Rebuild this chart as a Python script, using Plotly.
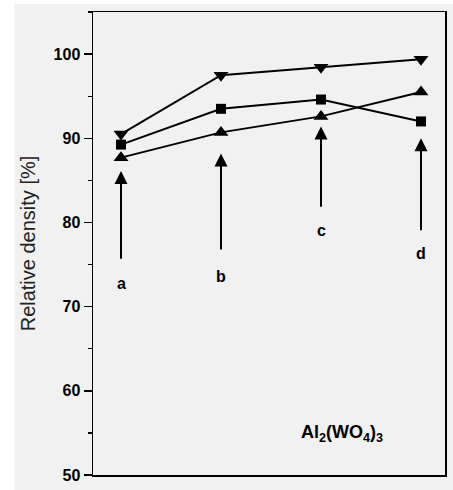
import plotly.graph_objects as go

samples = ["a", "b", "c", "d"]
x_pos = [1, 2, 3, 4]
down_tri = [90.5, 97.5, 98.45, 99.4]
squares = [89.25, 93.5, 94.6, 92.0]
up_tri = [87.7, 90.7, 92.6, 95.5]
arrow_tip = [86.1, 88.2, 91.4, 90.0]
arrow_tail = [75.5, 76.6, 81.7, 78.9]
label_y = [72.7, 73.6, 79.1, 76.3]
y_ticks = [50, 60, 70, 80, 90, 100]

fig = go.Figure()
for vals, sym in [(down_tri, "triangle-down"), (squares, "square"), (up_tri, "triangle-up")]:
    fig.add_trace(go.Scatter(
        x=x_pos, y=vals, mode="lines+markers",
        line=dict(color="black", width=2),
        marker=dict(symbol=sym, size=13 if sym != "square" else 10, color="black"),
        showlegend=False, cliponaxis=False, hoverinfo="skip",
    ))

for xi, tip, tail, ly, s in zip(x_pos, arrow_tip, arrow_tail, label_y, samples):
    fig.add_annotation(x=xi, y=tip, ax=xi, ay=tail, axref="x", ayref="y",
                       xref="x", yref="y", showarrow=True, arrowhead=2,
                       arrowsize=1.3, arrowwidth=2, arrowcolor="black", text="")
    fig.add_annotation(x=xi, y=ly, xref="x", yref="y", text="<b>%s</b>" % s,
                       showarrow=False, font=dict(family="Arial", size=16, color="black"))

fig.add_annotation(x=0.83, y=0.06, xref="paper", yref="paper",
                   text="<b>Al<sub>2</sub>(WO<sub>4</sub>)<sub>3</sub></b>",
                   showarrow=False, font=dict(family="Arial", size=18, color="black"))

# white strip around the scanned area
fig.add_shape(type="rect", xref="paper", yref="paper", x0=-0.27, x1=-0.223, y0=-0.1, y1=1.1,
              fillcolor="white", line_width=0, layer="above")
fig.add_shape(type="rect", xref="paper", yref="paper", x0=-0.27, x1=1.1, y0=1.0172, y1=1.1,
              fillcolor="white", line_width=0, layer="above")

fig.update_xaxes(range=[0.72, 4.24], showticklabels=False, ticks="", showgrid=False,
                 zeroline=False, showline=True, linecolor="black", linewidth=1.5, mirror=True)
fig.update_yaxes(range=[50, 105], tickvals=y_ticks, ticks="outside", ticklen=8, tickwidth=1.5,
                 tickcolor="black", minor=dict(tickvals=[55, 65, 75, 85, 95, 105], ticks="outside",
                                               ticklen=4, tickwidth=1.2, tickcolor="black"),
                 showgrid=False, zeroline=False, showline=True, linecolor="black", linewidth=1.5,
                 mirror=True, tickfont=dict(family="Arial", size=16, color="black", weight="bold"),
                 title=dict(text="Relative density [%]", font=dict(family="Arial", size=20, color="#222"),
                            standoff=12))

fig.update_layout(width=453, height=490, margin=dict(l=93, r=6, t=12, b=12),
                  paper_bgcolor="#f1f1f1", plot_bgcolor="#f1f1f1", hovermode=False)
fig.write_html("out.html", config={"displayModeBar": False, "staticPlot": True},
               post_script="document.body.style.margin='0';")
